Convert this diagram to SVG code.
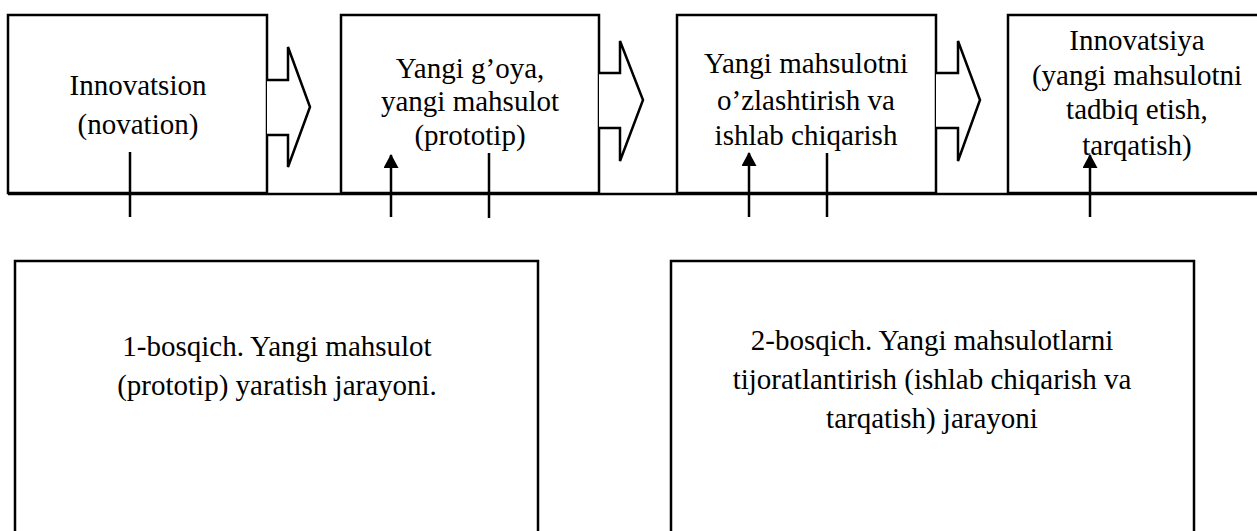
<svg xmlns="http://www.w3.org/2000/svg" width="1257" height="531" viewBox="0 0 1257 531">
<style>
.box{fill:#fff;stroke:#000;stroke-width:2.5}
.blk{fill:#fff;stroke:#000;stroke-width:2.5;stroke-linejoin:miter}
.ln{stroke:#000;stroke-width:2.5;fill:none}
.t{font-family:"Liberation Serif","Times New Roman",serif;font-size:29px;fill:#000;text-anchor:middle}
</style>
<defs>
<marker id="ah" markerWidth="14" markerHeight="15" refX="13" refY="7.5" orient="auto" markerUnits="userSpaceOnUse" viewBox="0 0 14 15">
<path d="M0,0 L14,7.5 L0,15 Z" fill="#000"/>
</marker>
</defs>
<rect width="1257" height="531" fill="#fff"/>
<g id="node-innovatsion">
<rect class="box" x="8" y="15" width="259" height="178"/>
<text class="t" x="138" y="95">Innovatsion</text>
<text class="t" x="138" y="134">(novation)</text>
</g>
<g id="node-goya">
<rect class="box" x="341" y="15" width="258" height="178"/>
<text class="t" x="470" y="78">Yangi g’oya,</text>
<text class="t" x="470" y="111">yangi mahsulot</text>
<text class="t" x="470" y="145">(prototip)</text>
</g>
<g id="node-ozlashtirish">
<rect class="box" x="677" y="15" width="259" height="178"/>
<text class="t" x="806" y="73">Yangi mahsulotni</text>
<text class="t" x="806" y="110">o’zlashtirish va</text>
<text class="t" x="806" y="145">ishlab chiqarish</text>
</g>
<g id="node-innovatsiya">
<rect class="box" x="1008" y="15" width="262" height="178"/>
<text class="t" x="1137" y="50">Innovatsiya</text>
<text class="t" x="1137" y="85">(yangi mahsulotni</text>
<text class="t" x="1137" y="119">tadbiq etish,</text>
<text class="t" x="1137" y="155">tarqatish)</text>
</g>
<g id="node-bosqich1">
<rect class="box" x="15" y="261" width="523" height="290"/>
<text class="t" x="277" y="356">1-bosqich. Yangi mahsulot</text>
<text class="t" x="277" y="395">(prototip) yaratish jarayoni.</text>
</g>
<g id="node-bosqich2">
<rect class="box" x="671" y="261" width="523" height="290"/>
<text class="t" x="932" y="350">2-bosqich. Yangi mahsulotlarni</text>
<text class="t" x="932" y="389">tijoratlantirish (ishlab chiqarish va</text>
<text class="t" x="932" y="428">tarqatish) jarayoni</text>
</g>
<g id="connectors">
<line class="ln" x1="8" y1="194" x2="1257" y2="194"/>
<path class="blk" d="M267,80 H288 V47 L310,107 L288,167 V135 H267"/>
<path class="blk" d="M599,73 H620 V41 L643,100 L620,161 V128 H599"/>
<path class="blk" d="M936,73 H958 V41 L980,100 L958,161 V128 H936"/>
<line class="ln" x1="130" y1="152" x2="130" y2="217"/>
<line class="ln" x1="391" y1="217" x2="391" y2="155" marker-end="url(#ah)"/>
<line class="ln" x1="489" y1="153" x2="489" y2="218"/>
<line class="ln" x1="749" y1="217" x2="749" y2="153" marker-end="url(#ah)"/>
<line class="ln" x1="827" y1="153" x2="827" y2="217"/>
<line class="ln" x1="1090" y1="217" x2="1090" y2="155" marker-end="url(#ah)"/>
</g>
</svg>
